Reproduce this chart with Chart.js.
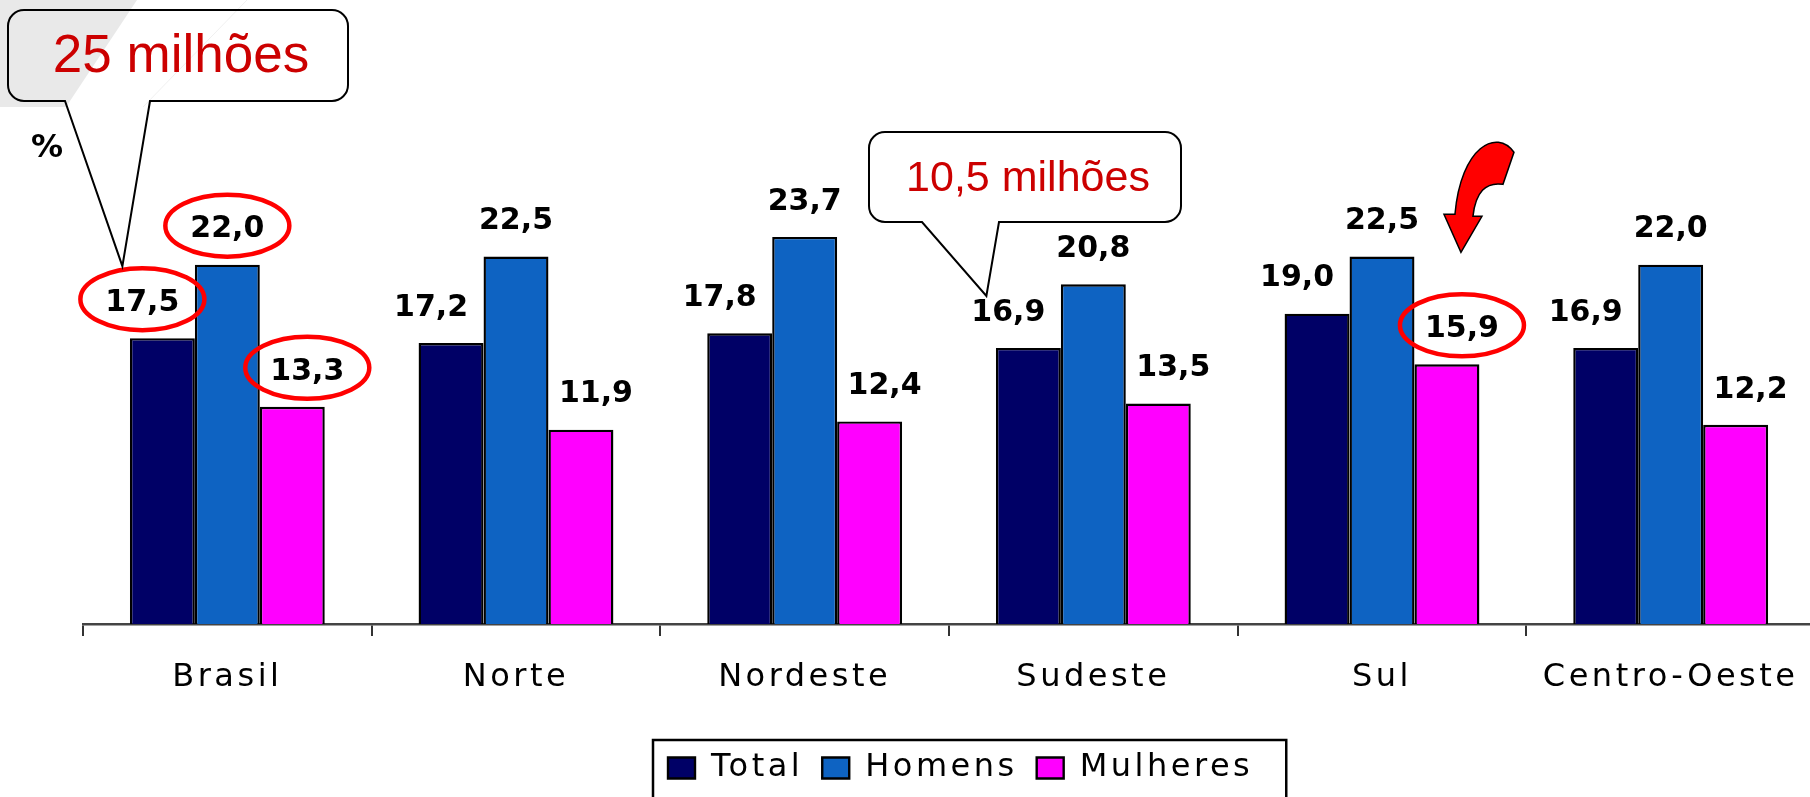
<!DOCTYPE html>
<html>
<head>
<meta charset="utf-8">
<script src="https://cdn.jsdelivr.net/npm/chart.js@4"></script>
<style>
    html, body { margin: 0; padding: 0; overflow: hidden; background: #fff; }
    canvas { display: block; }
</style>
</head>
<body>
<canvas id="grafico" width="1830" height="797"></canvas>
<script>
// --- DADOS ---
const regioes  = ['Brasil', 'Norte', 'Nordeste', 'Sudeste', 'Sul', 'Centro-Oeste'];
const total    = [17.5, 17.2, 17.8, 16.9, 19.0, 16.9];
const homens   = [22.0, 22.5, 23.7, 20.8, 22.5, 22.0];
const mulheres = [13.3, 11.9, 12.4, 13.5, 15.9, 12.2];
const series   = ['Total', 'Homens', 'Mulheres'];

// valores circulados em vermelho: [serie, regiao]
const destaques = [[0, 0], [1, 0], [2, 0], [2, 4]];

// balões de texto
const chamadas = [
    { texto: '25 milhões',   serie: 0, regiao: 0 },
    { texto: '10,5 milhões', serie: 0, regiao: 3 }
];

// --- ESTILO ---
const cores = ['#000066', '#0e63c2', '#ff00ff'];
const FONTE = "'DejaVu Sans', sans-serif";
const FONTE_BALAO = "'Liberation Sans', Arial, sans-serif";
const ESPACO = '3.5px';
const desvioRotulo = [-20, 0, 15];   // deslocamento horizontal dos rótulos por série

// posição de cada rótulo de valor (calculada a partir das barras)
function posRotulo(chart, s, i) {
    const bar = chart.getDatasetMeta(s).data[i];
    return { x: bar.x + desvioRotulo[s], y: bar.y - 36 };
}

function caixaBalao(ctx, x0, y0, x1, y1, r, b0, b1, tip) {
    ctx.beginPath();
    ctx.moveTo(x0 + r, y0);
    ctx.lineTo(x1 - r, y0);
    ctx.arcTo(x1, y0, x1, y0 + r, r);
    ctx.lineTo(x1, y1 - r);
    ctx.arcTo(x1, y1, x1 - r, y1, r);
    ctx.lineTo(b1, y1);
    ctx.lineTo(tip.x, tip.y);
    ctx.lineTo(b0, y1);
    ctx.lineTo(x0 + r, y1);
    ctx.arcTo(x0, y1, x0, y1 - r, r);
    ctx.lineTo(x0, y0 + r);
    ctx.arcTo(x0, y0, x0 + r, y0, r);
    ctx.closePath();
}

function inicioLegenda(lg) {
    const pad = lg.options.labels.padding;
    return (lg.left + pad + lg.right - lg.lineWidths[0]) / 2;
}

const espacamento = {
    id: 'espacamento',
    beforeLayout(chart) { chart.ctx.letterSpacing = ESPACO; },
    afterLayout(chart) {
        // leva a legenda para a posição do original
        const lg = chart.legend;
        const dx = 668 - inicioLegenda(lg);
        lg.left += dx;
        lg.right += dx;
    },
    beforeDraw(chart) {
        const ctx = chart.ctx;
        ctx.save();
        ctx.letterSpacing = '0px';
        // faixa cinza do slide
        ctx.fillStyle = '#e9e9e9';
        ctx.beginPath();
        ctx.moveTo(0, 0); ctx.lineTo(137, 0); ctx.lineTo(66, 107); ctx.lineTo(0, 107);
        ctx.closePath();
        ctx.fill();
        ctx.strokeStyle = '#f0f0f0';
        ctx.lineWidth = 1;
        ctx.beginPath(); ctx.moveTo(247, 0); ctx.lineTo(143, 107); ctx.stroke();
        ctx.restore();
        ctx.letterSpacing = ESPACO;
    }
};

const rotulos = {
    id: 'rotulos',
    afterDatasetsDraw(chart) {
        const ctx = chart.ctx;
        ctx.save();
        // elipses vermelhas
        ctx.strokeStyle = '#ff0000';
        ctx.lineWidth = 4.5;
        destaques.forEach(([s, i]) => {
            const p = posRotulo(chart, s, i);
            ctx.beginPath();
            ctx.ellipse(p.x, p.y - 3, 62, 31, 0, 0, Math.PI * 2);
            ctx.stroke();
        });
        // valores
        ctx.letterSpacing = '0px';
        ctx.font = 'bold 30px ' + FONTE;
        ctx.fillStyle = '#000';
        ctx.textAlign = 'center';
        ctx.textBaseline = 'middle';
        chart.data.datasets.forEach((ds, s) => {
            ds.data.forEach((v, i) => {
                const p = posRotulo(chart, s, i);
                ctx.fillText(v.toFixed(1).replace('.', ','), p.x, p.y + 1);
            });
        });
        ctx.restore();
    },
    afterDraw(chart) {
        const ctx = chart.ctx;
        ctx.save();
        ctx.letterSpacing = '0px';

        // moldura da legenda
        const lg = chart.legend;
        const x0 = inicioLegenda(lg);
        ctx.strokeStyle = '#000';
        ctx.lineWidth = 2.5;
        ctx.strokeRect(x0 - 15, 740, lg.lineWidths[0] + 29, 80);

        // símbolo %
        ctx.fillStyle = '#000';
        ctx.font = 'bold 32px ' + FONTE;
        ctx.textAlign = 'center';
        ctx.textBaseline = 'middle';
        ctx.fillText('%', 47, 149);

        // balões
        const caixas = [
            { x0: 8, y0: 10, x1: 348, y1: 101, b0: 65, b1: 150, dx: -20, dy: -36, tam: 53 },
            { x0: 869, y0: 132, x1: 1181, y1: 222, b0: 922, b1: 999, dx: -22, dy: -16, tam: 43 }
        ];
        chamadas.forEach((c, k) => {
            const b = caixas[k];
            const p = posRotulo(chart, c.serie, c.regiao);
            caixaBalao(ctx, b.x0, b.y0, b.x1, b.y1, 16, b.b0, b.b1, { x: p.x + b.dx, y: p.y + b.dy });
            ctx.strokeStyle = '#000';
            ctx.lineWidth = 2;
            ctx.stroke();
            ctx.fillStyle = '#cc0000';
            ctx.font = b.tam + 'px ' + FONTE_BALAO;
            ctx.fillText(c.texto, (b.x0 + b.x1) / 2 + 3, (b.y0 + b.y1) / 2 + 2);
        });

        // seta curva sobre Sul / Mulheres
        const p = posRotulo(chart, 2, 4);
        const tx = p.x - 1, ty = p.y - 76;
        ctx.beginPath();
        ctx.moveTo(tx - 17, ty - 38);
        ctx.lineTo(tx, ty);
        ctx.lineTo(tx + 21, ty - 36);
        ctx.lineTo(tx + 12, ty - 36);
        ctx.quadraticCurveTo(tx + 16, ty - 72, tx + 42, ty - 68);
        ctx.lineTo(tx + 53, ty - 100);
        ctx.bezierCurveTo(tx + 36, ty - 124, tx + 0, ty - 106, tx - 6, ty - 38);
        ctx.closePath();
        ctx.fillStyle = '#ff0000';
        ctx.fill();
        ctx.strokeStyle = '#000';
        ctx.lineWidth = 1.5;
        ctx.stroke();
        ctx.restore();
    }
};

// --- GRÁFICO ---
const ctx = document.getElementById('grafico').getContext('2d');
const valores = [total, homens, mulheres];
const chart = new Chart(ctx, {
    type: 'bar',
    data: {
        labels: regioes,
        datasets: series.map((nome, s) => ({
            label: nome,
            data: valores[s],
            backgroundColor: cores[s],
            borderColor: '#000',
            borderWidth: 2.4,
            borderSkipped: 'bottom',
            barPercentage: 1.0,
            categoryPercentage: 0.675
        }))
    },
    options: {
        responsive: false,
        animation: false,
        layout: { padding: { top: 134, left: 83, right: 15, bottom: 3 } },
        plugins: {
            tooltip: { enabled: false },
            legend: {
                position: 'bottom',
                labels: {
                    boxWidth: 27,
                    boxHeight: 21,
                    padding: 19,
                    color: '#000',
                    font: { family: FONTE, size: 32 }
                }
            }
        },
        scales: {
            x: {
                grid: {
                    display: true,
                    drawOnChartArea: false,
                    drawTicks: true,
                    tickLength: 12,
                    color: '#333',
                    lineWidth: 2,
                    offset: true
                },
                border: { display: true, color: '#444', width: 2.5 },
                ticks: {
                    color: '#000',
                    padding: 22,
                    autoSkip: false,
                    maxRotation: 0,
                    font: { family: FONTE, size: 32 }
                },
                afterFit(scale) { scale.height = 109; }
            },
            y: {
                display: false,
                min: 0,
                max: 30
            }
        }
    },
    plugins: [espacamento, rotulos]
});
</script>
</body>
</html>
